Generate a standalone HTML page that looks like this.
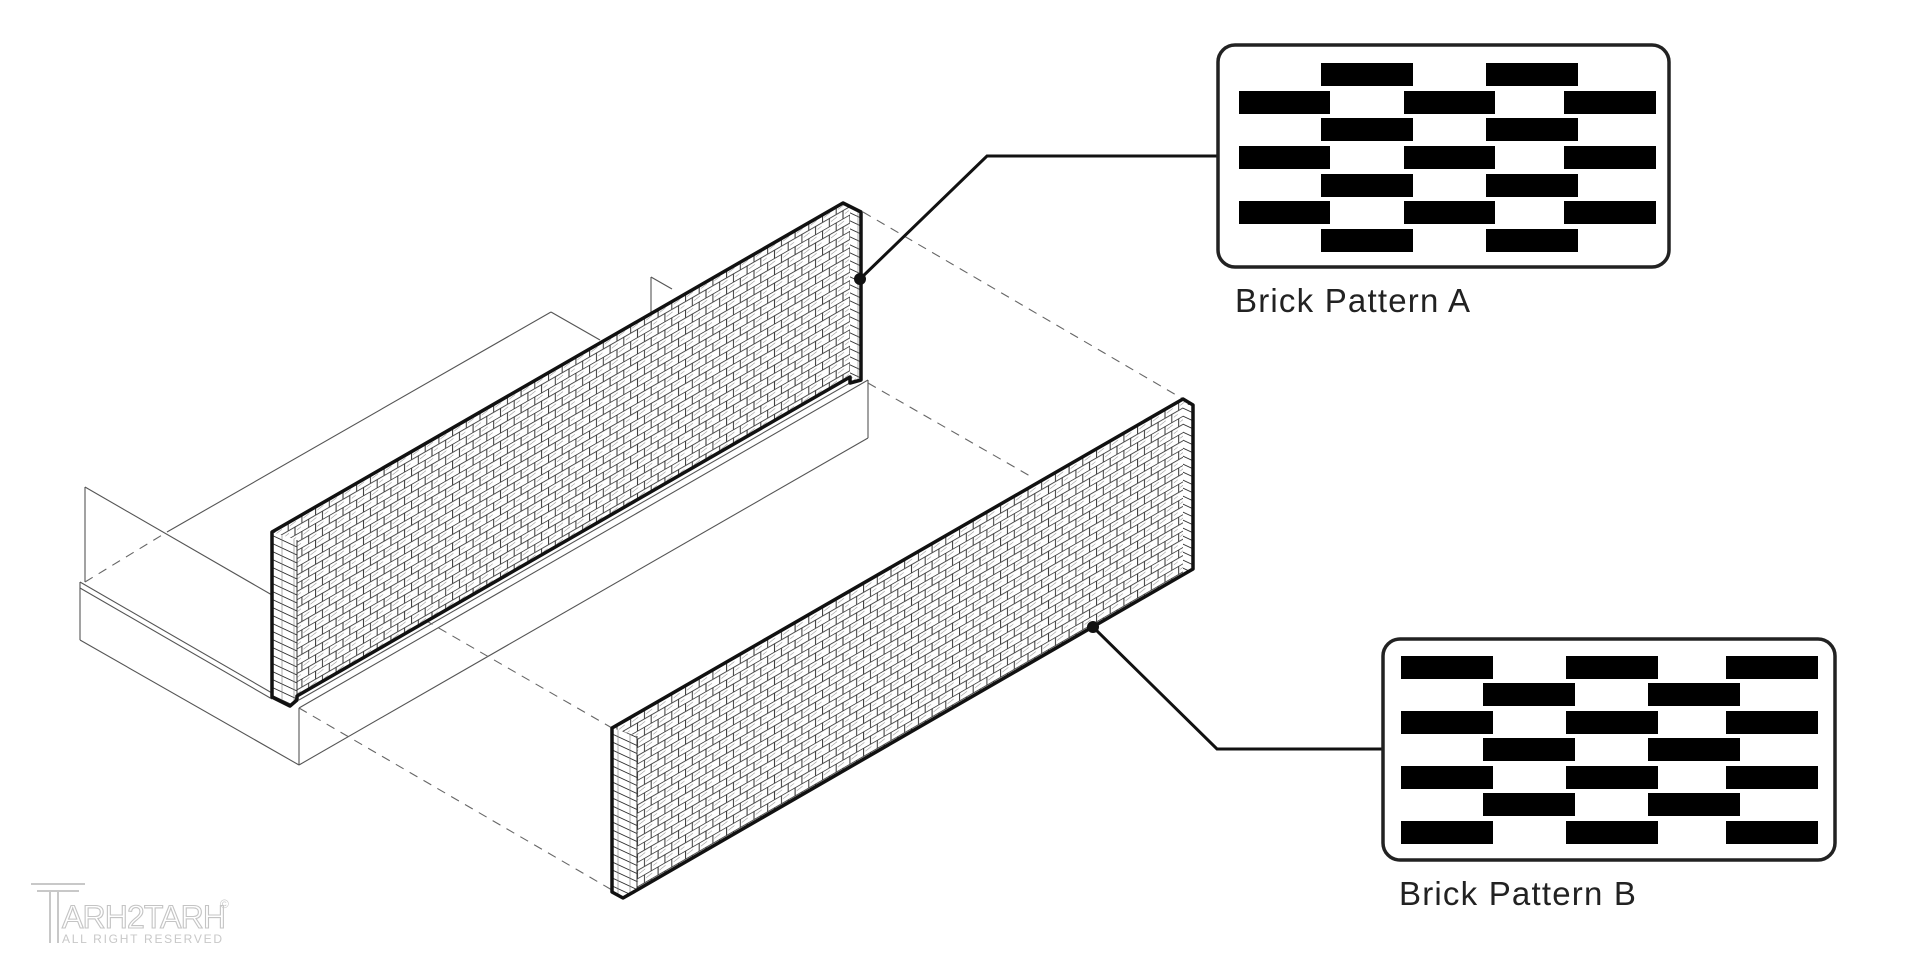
<!DOCTYPE html>
<html><head><meta charset="utf-8"><style>
html,body{margin:0;padding:0;background:#fff;}
svg{display:block;}
</style></head><body>
<svg width="1920" height="965" viewBox="0 0 1920 965" xmlns="http://www.w3.org/2000/svg">
<defs>
<pattern id="brk" patternUnits="userSpaceOnUse" width="27.4" height="16.4" patternTransform="skewY(-30)">
<rect width="27.4" height="16.4" fill="#fff"/>
<line x1="0" y1="0.4" x2="27.4" y2="0.4" stroke="#333" stroke-width="1"/>
<line x1="0" y1="8.6" x2="27.4" y2="8.6" stroke="#333" stroke-width="1"/>
<line x1="0.5" y1="0" x2="0.5" y2="8.2" stroke="#333" stroke-width="1"/>
<line x1="14.2" y1="0" x2="14.2" y2="8.2" stroke="#333" stroke-width="1"/>
<line x1="7.3" y1="8.2" x2="7.3" y2="16.4" stroke="#333" stroke-width="1"/>
<line x1="21" y1="8.2" x2="21" y2="16.4" stroke="#333" stroke-width="1"/>
<line x1="2" y1="4.4" x2="8" y2="3.2" stroke="#888" stroke-width="0.6"/>
<line x1="16" y1="4.4" x2="22" y2="3.2" stroke="#888" stroke-width="0.6"/>
<line x1="9" y1="12.6" x2="15" y2="11.4" stroke="#888" stroke-width="0.6"/>
<line x1="23" y1="12.6" x2="27" y2="11.8" stroke="#888" stroke-width="0.6"/>
</pattern>
<pattern id="end" patternUnits="userSpaceOnUse" width="12" height="8" patternTransform="skewY(25)">
<rect width="12" height="8" fill="#fff"/>
<line x1="0" y1="0.5" x2="12" y2="0.5" stroke="#333" stroke-width="1"/>
<line x1="6" y1="0" x2="6" y2="8" stroke="#777" stroke-width="0.6"/>
</pattern>
</defs>

<g fill="none" stroke="#555" stroke-width="1.1">
<line x1="85" y1="487" x2="85" y2="582"/>
<line x1="85" y1="487" x2="272" y2="595"/>
<line x1="167" y1="532" x2="551" y2="312"/>
<line x1="551" y1="312" x2="600" y2="340"/>
<line x1="651" y1="277" x2="651" y2="312"/>
<line x1="651" y1="277" x2="672" y2="289"/>
<line x1="80" y1="582" x2="80" y2="640"/>
<line x1="80" y1="582" x2="272" y2="693"/>
<line x1="80" y1="588" x2="272" y2="699"/>
<line x1="80" y1="640" x2="299" y2="765"/>
<line x1="299" y1="708" x2="299" y2="765"/>
<line x1="299" y1="708" x2="868" y2="380"/>
<line x1="299" y1="700" x2="855" y2="380"/>
<line x1="299" y1="765" x2="868" y2="438"/>
<line x1="868" y1="380" x2="868" y2="438"/>
</g>
<g fill="none" stroke="#666" stroke-width="1.1" stroke-dasharray="9,7">
<line x1="85" y1="582" x2="167" y2="532"/>
<line x1="863" y1="212" x2="1183" y2="399"/>
<line x1="868" y1="383" x2="1030" y2="476"/>
<line x1="299" y1="708" x2="612" y2="890"/>
<line x1="300" y1="548" x2="612" y2="728"/>
</g>

<path d="M272,532 L843,203 L861,212 L861,380 L850,383 L850,377 L297,696 L297,700 L290,706 L272,697 Z" fill="url(#brk)"/>
<path d="M272,532 L297,540 L297,696 L290,706 L272,697 Z" fill="url(#end)"/>
<path d="M850,210 L861,212 L861,380 L850,377 Z" fill="url(#end)"/>
<line x1="297" y1="540" x2="297" y2="696" stroke="#333" stroke-width="1"/>
<path d="M272,532 L843,203 L861,212 L861,380 L850,383 L850,377 L297,696 L297,700 L290,706 L272,697 Z" fill="none" stroke="#111" stroke-width="3.5" stroke-linejoin="round"/>

<path d="M612,728 L1183,399 L1193,405 L1193,569 L637,890 L623,898 L612,892 Z" fill="url(#brk)"/>
<path d="M612,728 L637,736 L637,890 L623,898 L612,892 Z" fill="url(#end)"/>
<path d="M1183,405 L1193,405 L1193,569 L1183,574 Z" fill="url(#end)"/>
<line x1="637" y1="736" x2="637" y2="890" stroke="#333" stroke-width="1"/>
<path d="M612,728 L1183,399 L1193,405 L1193,569 L637,890 L623,898 L612,892 Z" fill="none" stroke="#111" stroke-width="3.5" stroke-linejoin="round"/>

<polyline points="860,279 987,156 1218,156" fill="none" stroke="#111" stroke-width="3"/>
<circle cx="860" cy="279" r="6" fill="#111"/>
<polyline points="1093,627 1217,749 1383,749" fill="none" stroke="#111" stroke-width="3"/>
<circle cx="1093" cy="627" r="6" fill="#111"/>

<rect x="1218" y="45" width="451" height="222" rx="17" fill="#fff" stroke="#222" stroke-width="3.5"/>
<g fill="#000">
<rect x="1321" y="63" width="92" height="23"/><rect x="1486" y="63" width="92" height="23"/>
<rect x="1239" y="91" width="91" height="23"/><rect x="1404" y="91" width="91" height="23"/><rect x="1564" y="91" width="92" height="23"/>
<rect x="1321" y="118" width="92" height="23"/><rect x="1486" y="118" width="92" height="23"/>
<rect x="1239" y="146" width="91" height="23"/><rect x="1404" y="146" width="91" height="23"/><rect x="1564" y="146" width="92" height="23"/>
<rect x="1321" y="174" width="92" height="23"/><rect x="1486" y="174" width="92" height="23"/>
<rect x="1239" y="201" width="91" height="23"/><rect x="1404" y="201" width="91" height="23"/><rect x="1564" y="201" width="92" height="23"/>
<rect x="1321" y="229" width="92" height="23"/><rect x="1486" y="229" width="92" height="23"/>
</g>
<text x="1235" y="312" font-family="Liberation Sans, sans-serif" font-size="33" letter-spacing="1.2" fill="#222">Brick Pattern A</text>

<rect x="1383" y="639" width="452" height="221" rx="17" fill="#fff" stroke="#222" stroke-width="3.5"/>
<g fill="#000">
<rect x="1401" y="656" width="92" height="23"/><rect x="1566" y="656" width="92" height="23"/><rect x="1726" y="656" width="92" height="23"/>
<rect x="1483" y="683" width="92" height="23"/><rect x="1648" y="683" width="92" height="23"/>
<rect x="1401" y="711" width="92" height="23"/><rect x="1566" y="711" width="92" height="23"/><rect x="1726" y="711" width="92" height="23"/>
<rect x="1483" y="738" width="92" height="23"/><rect x="1648" y="738" width="92" height="23"/>
<rect x="1401" y="766" width="92" height="23"/><rect x="1566" y="766" width="92" height="23"/><rect x="1726" y="766" width="92" height="23"/>
<rect x="1483" y="793" width="92" height="23"/><rect x="1648" y="793" width="92" height="23"/>
<rect x="1401" y="821" width="92" height="23"/><rect x="1566" y="821" width="92" height="23"/><rect x="1726" y="821" width="92" height="23"/>
</g>
<text x="1399" y="905" font-family="Liberation Sans, sans-serif" font-size="33" letter-spacing="1.2" fill="#222">Brick Pattern B</text>

<g fill="none" stroke="#c8c8c8" stroke-width="2">
<line x1="31" y1="884" x2="85" y2="884"/>
<line x1="37" y1="891" x2="79" y2="891"/>
<line x1="50" y1="891" x2="50" y2="943"/>
<line x1="58" y1="891" x2="58" y2="943"/>
</g>
<text x="62" y="928" font-family="Liberation Sans, sans-serif" font-size="32" textLength="164" fill="none" stroke="#c4c4c4" stroke-width="1.1">ARH2TARH</text>
<text x="62" y="943" font-family="Liberation Sans, sans-serif" font-size="12" textLength="160" fill="#c8c8c8">ALL RIGHT RESERVED</text>
<text x="220" y="908" font-family="Liberation Sans, sans-serif" font-size="12" fill="#c8c8c8">©</text>
</svg>
</body></html>
